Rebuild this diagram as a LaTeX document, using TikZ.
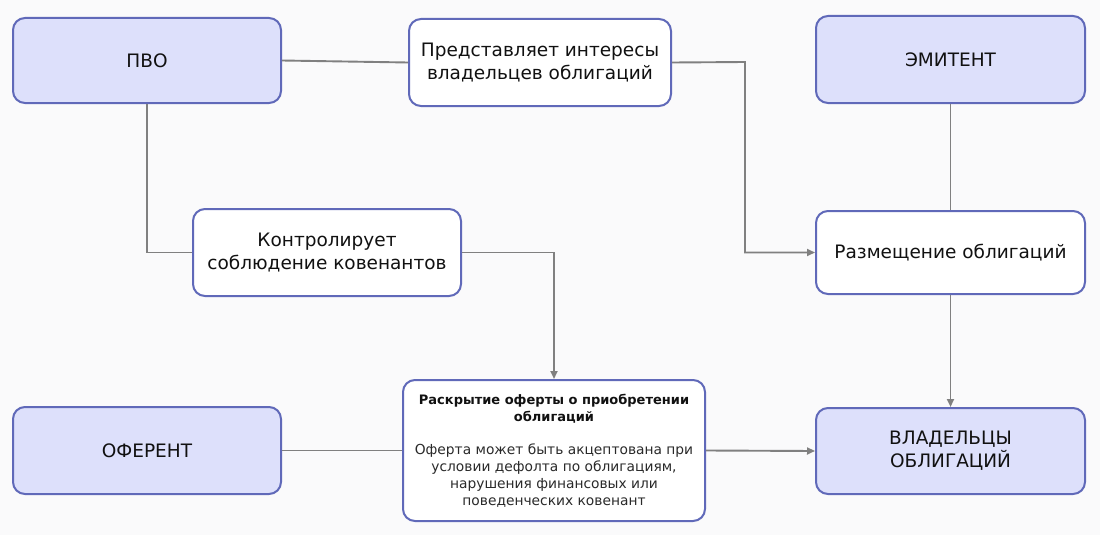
\documentclass[tikz,border=0pt]{standalone}
\usepackage{fontspec}
\setmainfont{DejaVu Sans}
\usetikzlibrary{arrows.meta}
\definecolor{bg}{HTML}{FAFAFB}
\definecolor{fillb}{HTML}{DDE0FB}
\definecolor{bord}{HTML}{6069B9}
\definecolor{conn}{HTML}{808080}
\definecolor{txt}{HTML}{111111}
\definecolor{bodytxt}{HTML}{2A2A2A}
\tikzset{
 box/.style={draw=bord, line width=2pt, rounded corners=12pt, align=center, inner sep=0pt, text=txt,
   font=\fontsize{18.5}{23}\selectfont},
 ent/.style={box, fill=fillb},
 note/.style={box, fill=white},
 smalltext/.style={font=\fontsize{13}{16.8}\selectfont},
 link/.style={draw=conn, line width=1.9pt},
 arr/.style={link, -{Triangle[length=8pt,width=7pt]}},
}
\begin{document}
\begin{tikzpicture}[x=1pt,y=-1pt]
\fill[bg] (0,0) rectangle (1100,535);
\useasboundingbox (0,0) rectangle (1100,535);

\node[ent, minimum width=268pt, minimum height=85pt] (pvo) at (147,60.5) {ПВО};
\node[note, minimum width=262pt, minimum height=87pt] (pred) at (540,62.5) {Представляет интересы\\владельцев облигаций};
\node[ent, minimum width=269pt, minimum height=87pt] (emit) at (950.5,59.5) {ЭМИТЕНТ};
\node[note, minimum width=268pt, minimum height=87pt] (kontr) at (327,252.5) {Контролирует\\соблюдение ковенантов};
\node[note, minimum width=269pt, minimum height=83pt] (razm) at (950.5,252.5) {Размещение облигаций};
\node[ent, minimum width=268pt, minimum height=87pt] (ofer) at (147,450.5) {ОФЕРЕНТ};
\node[note, smalltext, minimum width=302pt, minimum height=141pt] (rask) at (554,450.5) {\textbf{Раскрытие оферты о приобретении}\\\textbf{облигаций}\\\rule{0pt}{31pt}\color{bodytxt}\fontsize{13.8}{16.8}\selectfont Оферта может быть акцептована при\\\color{bodytxt}\fontsize{13.8}{16.8}\selectfont условии дефолта по облигациям,\\\color{bodytxt}\fontsize{13.8}{16.8}\selectfont нарушения финансовых или\\\color{bodytxt}\fontsize{13.8}{16.8}\selectfont поведенческих ковенант};
\node[ent, minimum width=269pt, minimum height=86pt] (vlad) at (950.5,451) {ВЛАДЕЛЬЦЫ\\ОБЛИГАЦИЙ};

\coordinate (c1) at (745,62);
\draw[link] (pvo.east) -- (pred.west);
\draw[arr] (pred.east) -- (c1) |- (razm.west);
\draw[link] (emit.south) -- (razm.north);
\draw[arr] (razm.south) -- (vlad.north);
\draw[link] (pvo.south) |- (kontr.west);
\draw[arr] (kontr.east) -| (rask.north);
\draw[link] (ofer.east) -- (rask.west);
\draw[arr] (rask.east) -- (vlad.west);
\end{tikzpicture}
\end{document}
